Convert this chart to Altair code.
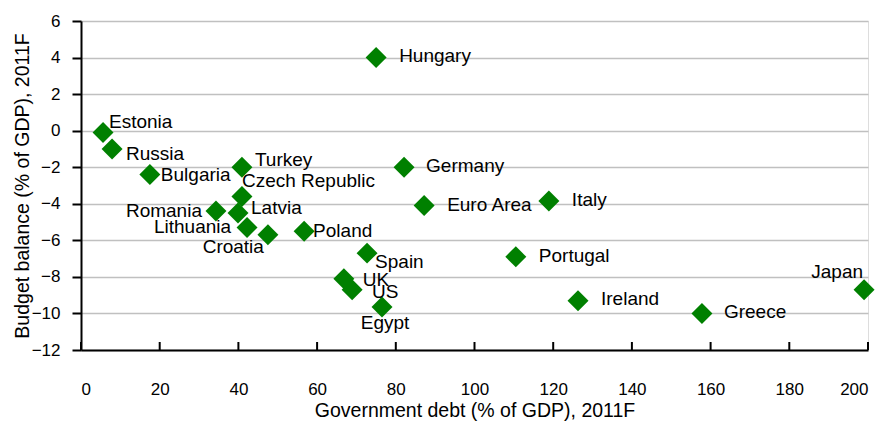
import altair as alt
import pandas as pd

countries = ["Hungary", "Estonia", "Russia", "Bulgaria", "Turkey", "Czech Republic",
             "Romania", "Latvia", "Lithuania", "Croatia", "Poland", "Spain", "UK",
             "US", "Egypt", "Germany", "Euro Area", "Italy", "Portugal", "Ireland",
             "Greece", "Japan"]
debt = [75.0, 5.6, 7.9, 17.5, 40.9, 40.9, 34.3, 39.9, 42.2, 47.5, 56.7, 72.7, 66.8,
        68.9, 76.5, 82.1, 87.2, 118.9, 110.5, 126.3, 157.8, 199.0]
balance = [4.0, -0.1, -1.0, -2.4, -2.0, -3.6, -4.4, -4.5, -5.3, -5.7, -5.5, -6.7, -8.1,
           -8.7, -9.65, -2.0, -4.1, -3.85, -6.9, -9.3, -10.0, -8.7]

x_ticks = [0, 20, 40, 60, 80, 100, 120, 140, 160, 180, 200]
y_ticks = [-12, -10, -8, -6, -4, -2, 0, 2, 4, 6]

# label placement (pixel offsets from the marker, and text alignment)
label_dx = [23, 6, 14, 11, 13, 0, -14, 13, -16, -4, 9, 8, 19, 20, 3, 22, 23, 23, 23, 23, 22, -1]
label_dy = [-2, -10, 5, 0, -7, -15, 0, -5, -1, 12, 0, 9, 1, 2, 16, -1, -1, -1, -1, -2, -1, -18]
label_align = ["left", "left", "left", "left", "left", "left", "right", "left", "right",
               "right", "left", "left", "left", "left", "center", "left", "left", "left",
               "left", "left", "left", "right"]

df = pd.DataFrame({"country": countries, "debt": debt, "balance": balance})
ticks_df = pd.DataFrame({"debt": x_ticks})

W, H = 787, 329
FONT = "Liberation Sans"

x_scale = alt.Scale(domain=[0, 200], nice=False, zero=False)
y_scale = alt.Scale(domain=[-12, 6], nice=False, zero=False)

x_axis = alt.Axis(values=x_ticks, grid=False, ticks=False, tickSize=0,
                  domainColor="black", domainWidth=2,
                  labelFont=FONT, labelFontSize=17, labelColor="black",
                  labelPadding=31, labelBaseline="top",
                  title="Government debt (% of GDP), 2011F",
                  titleFont=FONT, titleFontSize=19.5, titleFontWeight="normal",
                  titleColor="black", titleX=W / 2, titleY=60,
                  titleAlign="center", titleBaseline="middle")
y_axis = alt.Axis(values=y_ticks, grid=True, gridColor="#c0c0c0", gridWidth=1.5,
                  ticks=True, tickSize=9, tickWidth=2, tickColor="black",
                  domainColor="black", domainWidth=2,
                  labelFont=FONT, labelFontSize=17, labelColor="black",
                  labelPadding=12,
                  title="Budget balance (% of GDP), 2011F",
                  titleFont=FONT, titleFontSize=19.5, titleFontWeight="normal",
                  titleColor="black", titleX=-59, titleY=H / 2, titleAngle=270,
                  titleAlign="center", titleBaseline="middle")

x_enc = alt.X("debt:Q", scale=x_scale, axis=x_axis)
y_enc = alt.Y("balance:Q", scale=y_scale, axis=y_axis)

points = alt.Chart(df).mark_point(shape="diamond", filled=True, size=440,
                                  color="#008000", opacity=1, strokeWidth=0).encode(
    x=x_enc, y=y_enc)

xticks = alt.Chart(ticks_df).mark_rule(color="black", strokeWidth=2).encode(
    x=x_enc, y=alt.value(H), y2=alt.value(H - 8))

texts = []
for name, ddx, ddy, a in zip(countries, label_dx, label_dy, label_align):
    texts.append(
        alt.Chart(df).transform_filter(alt.datum.country == name).mark_text(
            align=a, baseline="middle", font=FONT, fontSize=19, color="black",
            dx=ddx, dy=ddy
        ).encode(x=x_enc, y=y_enc, text="country:N")
    )

chart = alt.layer(xticks, points, *texts).properties(
    width=W, height=H,
    autosize=alt.AutoSizeParams(type="none"),
    padding={"left": 73, "top": 13, "right": 9, "bottom": 72},
).configure_view(stroke=None).configure(background="white")

chart.save("out.html", embed_options={"renderer": "svg", "actions": False})
